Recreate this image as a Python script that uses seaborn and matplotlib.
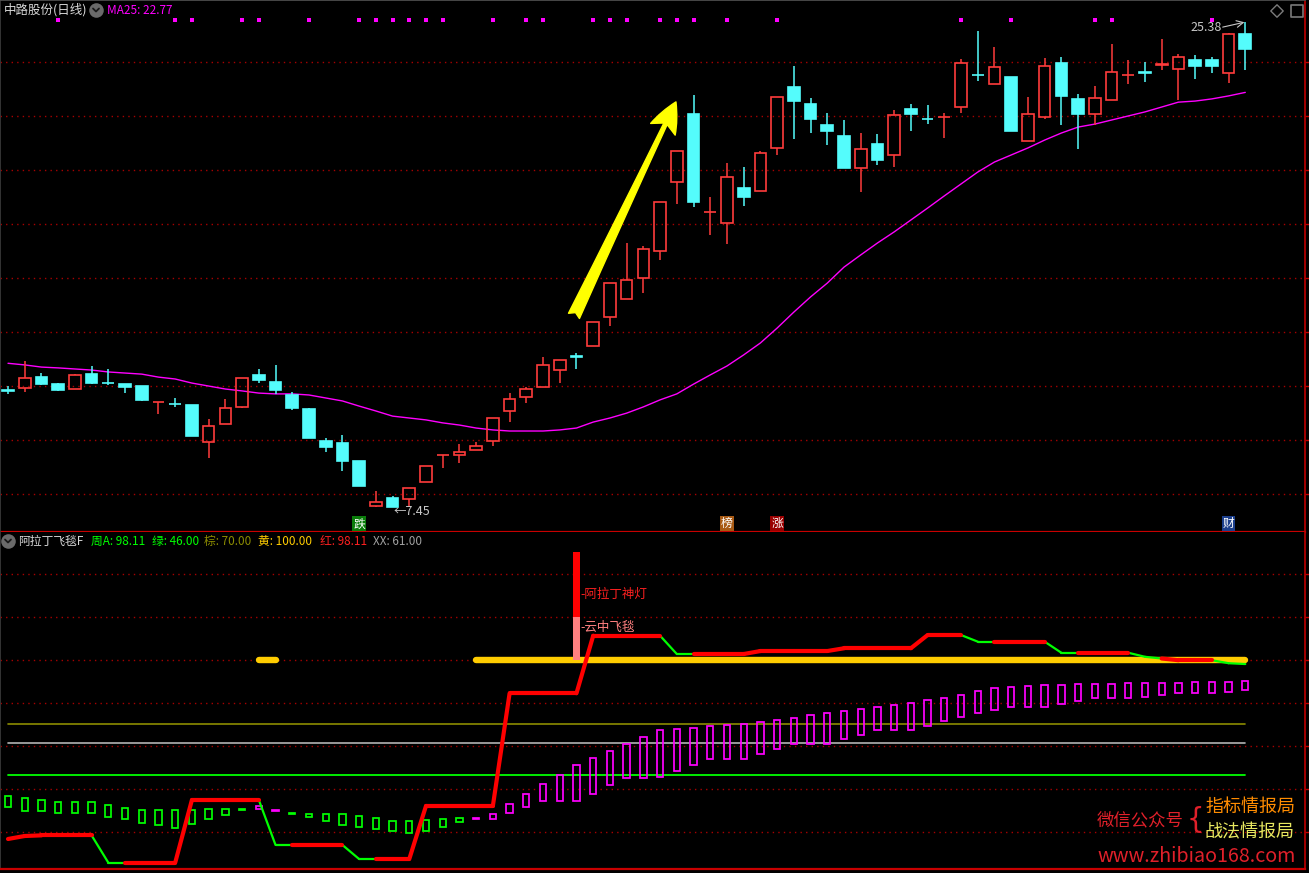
import numpy as np
import pandas as pd
import matplotlib
matplotlib.use("Agg")
import matplotlib.pyplot as plt
import matplotlib.transforms as mtransforms
import seaborn as sns

# ---------------- data ----------------
open_ = [11.77, 11.87, 12.25, 12.00, 11.83, 12.37, 12.04, 12.00, 11.93, 11.33,
         11.27, 11.23, 9.85, 10.52, 11.15, 12.34, 12.08, 11.60, 11.08, 9.90,
         9.83, 9.16, 7.49, 7.79, 7.75, 8.38, 9.39, 9.37, 9.56, 9.89,
         11.00, 11.51, 11.88, 12.51, 13.03, 13.42, 14.47, 15.13, 15.91, 16.93,
         19.45, 21.97, 18.34, 17.94, 19.23, 19.12, 20.71, 22.97, 22.33, 21.57,
         21.15, 19.97, 20.87, 20.45, 22.16, 21.79, 21.85, 22.22, 23.42, 23.07,
         23.34, 20.96, 21.85, 23.86, 22.53, 21.96, 22.48, 23.42, 23.51, 23.77,
         23.65, 23.96, 23.96, 23.47, 24.93]
close_ = [11.76, 12.22, 12.02, 11.80, 12.33, 12.05, 12.03, 11.90, 11.42, 11.34,
          11.26, 10.10, 10.44, 11.11, 12.22, 12.16, 11.80, 11.13, 10.02, 9.69,
          9.17, 8.25, 7.64, 7.45, 8.16, 8.99, 9.40, 9.51, 9.73, 10.74,
          11.44, 11.81, 12.70, 12.88, 13.02, 14.28, 15.72, 15.83, 16.98, 18.71,
          20.60, 18.74, 18.35, 19.63, 18.90, 20.52, 22.59, 22.46, 21.80, 21.36,
          19.99, 20.67, 20.29, 21.94, 21.98, 21.78, 21.86, 23.84, 23.41, 23.70,
          21.36, 21.96, 23.73, 22.65, 21.98, 22.55, 23.52, 23.43, 23.50, 23.82,
          24.07, 23.76, 23.76, 24.92, 24.38]
high_ = [11.94, 12.85, 12.40, 12.04, 12.39, 12.67, 12.56, 12.00, 11.93, 11.34,
         11.48, 11.23, 10.71, 11.45, 12.22, 12.56, 12.71, 11.70, 11.12, 10.02,
         10.11, 9.16, 8.05, 7.87, 8.16, 8.99, 9.40, 9.79, 9.85, 10.74,
         11.66, 11.90, 13.00, 12.88, 13.14, 14.28, 15.72, 17.20, 17.10, 18.71,
         20.60, 22.67, 18.91, 20.16, 20.00, 20.61, 22.59, 23.74, 22.55, 22.00,
         21.75, 21.27, 21.23, 22.12, 22.34, 22.29, 22.00, 24.01, 25.04, 24.45,
         23.34, 22.60, 24.03, 24.08, 22.71, 23.01, 24.57, 23.97, 23.89, 24.74,
         24.19, 24.15, 24.08, 24.96, 25.38]
low_ = [11.62, 11.72, 11.96, 11.76, 11.83, 12.00, 11.97, 11.68, 11.38, 10.91,
        11.17, 10.10, 9.28, 10.52, 11.13, 12.05, 11.65, 11.06, 10.02, 9.51,
        8.80, 8.25, 7.47, 7.45, 7.48, 8.38, 8.92, 9.10, 9.56, 9.73,
        10.61, 11.29, 11.88, 12.03, 12.57, 13.42, 14.16, 15.13, 15.35, 16.58,
        18.66, 18.55, 17.52, 17.18, 18.59, 19.12, 20.47, 21.06, 21.28, 20.84,
        19.97, 19.10, 20.10, 20.03, 21.36, 21.61, 21.10, 22.00, 23.20, 23.07,
        21.36, 20.96, 21.79, 21.58, 20.69, 21.57, 22.48, 23.09, 23.17, 23.61,
        22.50, 23.27, 23.50, 23.11, 23.61]
ma25 = [12.77, 12.71, 12.63, 12.60, 12.56, 12.52, 12.45, 12.41, 12.37, 12.26,
        12.19, 12.04, 11.93, 11.82, 11.75, 11.67, 11.64, 11.64, 11.60, 11.49,
        11.38, 11.19, 11.01, 10.82, 10.75, 10.68, 10.57, 10.49, 10.38, 10.31,
        10.27, 10.27, 10.27, 10.31, 10.38, 10.60, 10.75, 10.93, 11.16, 11.42,
        11.64, 12.00, 12.34, 12.67, 13.08, 13.52, 14.07, 14.66, 15.22, 15.73,
        16.32, 16.77, 17.21, 17.62, 18.06, 18.50, 18.95, 19.39, 19.83, 20.20,
        20.46, 20.72, 21.01, 21.27, 21.49, 21.60, 21.75, 21.90, 22.05, 22.23,
        22.41, 22.45, 22.53, 22.64, 22.77]
dot_days = [3, 10, 11, 14, 15, 18, 21, 22, 23, 24, 25, 26, 29, 31, 32, 35, 36,
            37, 39, 40, 41, 43, 46, 57, 60, 65, 66, 72]
signal_days = [21, 43, 46, 73]
signal_chars = ["跌", "榜", "涨", "财"]
signal_bg = ["#0b7d0b", "#a85a14", "#9a0000", "#1c3f8c"]
low_label = 7.45
high_label = 25.38
arrow_from = (33.85, 14.52)
arrow_to = (39.95, 22.42)
price_grid = [7.94, 9.94, 11.93, 13.93, 15.92, 17.91, 19.91, 21.90, 23.89]

# indicator panel
red_line = [16.1, 17.5, 17.8, 17.8, 17.8, 17.8, 5.0, 5.0, 5.0, 5.0,
            5.0, 34.4, 34.4, 34.4, 34.4, 34.4, 13.3, 13.3, 13.3, 13.3,
            13.3, 6.7, 6.7, 6.7, 6.7, 31.6, 31.6, 31.6, 31.6, 31.6,
            84.4, 84.4, 84.4, 84.4, 84.4, 111.4, 111.4, 111.4, 111.4, 111.4,
            102.8, 102.8, 102.8, 102.8, 102.8, 104.2, 104.2, 104.2, 104.2, 104.2,
            105.5, 105.5, 105.5, 105.5, 105.5, 111.7, 111.7, 111.7, 108.6, 108.6,
            108.6, 108.6, 108.6, 103.4, 103.4, 103.4, 103.4, 103.4, 101.5, 100.7,
            99.9, 99.9, 99.9, 98.5, 98.11]
red_line_colors = ("RRRRRR" + "GG" + "RRRRRRRR" + "GG" + "RRR" + "GG"
                   + "R" * 17 + "GG" + "R" * 16 + "GG" + "RRR" + "GG"
                   + "RRR" + "GG" + "RRR" + "GG")
box_top = [36.3, 35.3, 34.4, 33.4, 33.3, 33.4, 31.9, 30.5, 29.7, 29.7,
           29.5, 29.5, 30.0, 30.0, 30.2, 31.6, 29.4, 28.3, 27.7, 27.7,
           27.7, 26.9, 25.9, 24.4, 24.4, 25.0, 25.3, 25.8, 25.8, 27.7,
           32.4, 37.0, 41.7, 46.0, 50.6, 53.9, 57.2, 60.6, 63.7, 67.0,
           67.5, 68.0, 68.9, 69.4, 69.9, 70.8, 71.7, 72.7, 74.1, 75.0,
           76.0, 76.9, 77.8, 78.8, 79.7, 81.1, 82.0, 83.5, 85.5, 86.7,
           87.2, 87.7, 88.1, 88.1, 88.6, 88.6, 88.6, 89.1, 89.1, 89.1,
           89.1, 89.5, 89.5, 89.5, 90.0]
box_bot = [31.0, 29.1, 29.1, 28.4, 28.4, 28.1, 26.5, 25.3, 23.7, 22.5,
           21.1, 23.0, 25.3, 27.2, 29.7, 30.0, 29.0, 27.9, 26.3, 24.4,
           22.5, 21.9, 20.9, 20.0, 19.0, 20.0, 21.9, 23.9, 25.6, 25.6,
           28.4, 31.2, 34.1, 34.1, 34.1, 37.4, 41.2, 44.9, 44.9, 45.0,
           47.8, 50.6, 53.5, 53.5, 53.5, 55.8, 58.1, 60.5, 60.5, 60.5,
           62.8, 64.7, 67.0, 67.0, 67.0, 68.9, 71.3, 73.1, 75.0, 76.4,
           78.1, 78.1, 78.1, 79.2, 80.6, 82.0, 82.0, 82.0, 82.5, 83.5,
           84.4, 84.4, 84.4, 84.9, 85.8]
box_colors = "G" * 15 + "MM" + "G" * 11 + "M" * 47
yellow_line = [np.nan] * 15 + [100.0] * 2 + [np.nan] * 11 + [100.0] * 47
level_brown = 70.0
level_xx = 61.0
level_green = 46.0
lamp_day = 34
lamp_base, lamp_mid, lamp_top = 100.0, 120.0, 150.6
ind_grid = [19.4, 39.5, 59.7, 79.8, 100.0, 120.2, 140.3]

# ---------------- styling ----------------
sns.set_theme(style="dark", rc={"axes.facecolor": "black", "figure.facecolor": "black"})
CJK = ["Noto Sans CJK SC", "DejaVu Sans"]
plt.rcParams["font.family"] = CJK

RED = "#ff3c3c"
CYAN = "#54fcfc"
MAG = "#ff00ff"
GRIDC = "#a80000"

n = len(close_)
idx = np.arange(n)
df = pd.DataFrame({"day": idx, "open": open_, "close": close_, "high": high_,
                   "low": low_, "ma25": ma25})

W, H = 1309, 873
fig = plt.figure(figsize=(W / 100, H / 100), dpi=100)
fig.patch.set_facecolor("black")


def px_axes(x0, y0, x1, y1):
    return fig.add_axes([x0 / W, 1 - y1 / H, (x1 - x0) / W, (y1 - y0) / H])


ax1 = px_axes(0, 0, 1305, 532)
ax2 = px_axes(0, 532, 1305, 869)
step = 16.72
xlim = (-8 / step, (1305 - 8) / step)

for ax in (ax1, ax2):
    ax.set_facecolor("black")
    ax.set_xlim(*xlim)
    ax.xaxis.grid(False)
    ax.yaxis.grid(True, color=GRIDC, linestyle=(0, (1, 3)), linewidth=1.0)
    ax.set_axisbelow(True)
    ax.tick_params(axis="x", bottom=False, labelbottom=False)
    ax.yaxis.tick_right()
    ax.tick_params(axis="y", right=True, left=False, labelright=False, labelleft=False,
                   length=4, width=1, color="#c00000", direction="out")
    ax.set_xlabel("")
    ax.set_ylabel("")
    ax.spines["left"].set_color("#3a3a3a")
    ax.spines["right"].set_color("#c00000")
    ax.spines["right"].set_linewidth(1.2)
    ax.spines["bottom"].set_color("#c80000")
    ax.spines["bottom"].set_linewidth(1.6)

ax1.spines["top"].set_color("#505050")
ax2.spines["top"].set_visible(False)

# ---------------- top panel: candles ----------------
ax1.set_ylim(6.542, 26.181)
ax1.set_yticks(price_grid)
o = df["open"].to_numpy()
c = df["close"].to_numpy()
hi = df["high"].to_numpy()
lo = df["low"].to_numpy()
up = c >= o
cols = np.where(up, RED, CYAN)

ax1.vlines(idx, np.maximum(o, c), hi, colors=cols, linewidth=1.1, zorder=3)
ax1.vlines(idx, lo, np.minimum(o, c), colors=cols, linewidth=1.1, zorder=3)
ax1.bar(idx[up], (c - o)[up], bottom=o[up], width=0.7, facecolor="none",
        edgecolor=RED, linewidth=1.2, zorder=4)
ax1.bar(idx[~up], (o - c)[~up], bottom=c[~up], width=0.7, facecolor=CYAN,
        edgecolor=CYAN, linewidth=1.2, zorder=4)

sns.lineplot(data=df, x="day", y="ma25", ax=ax1, color=MAG, linewidth=1.0,
             legend=False, zorder=2)
ax1.set_xlim(*xlim)
ax1.set_xlabel("")
ax1.set_ylabel("")

blend = mtransforms.blended_transform_factory(ax1.transData, ax1.transAxes)
ax1.scatter(dot_days, [0.962] * len(dot_days), transform=blend, marker="s", s=7,
            color=MAG, linewidths=0, zorder=5)

ax1.annotate("", xy=arrow_to, xytext=arrow_from,
             arrowprops=dict(arrowstyle="fancy,head_length=0.95,head_width=0.85,tail_width=0.38",
                             fc="#ffff00", ec="#ffff00", mutation_scale=23,
                             shrinkA=0, shrinkB=0), zorder=6)

for d, ch, bg in zip(signal_days, signal_chars, signal_bg):
    ax1.text(d, 6.84, ch, ha="center", va="center", color="white", fontsize=8.5,
             bbox=dict(boxstyle="square,pad=0.08", fc=bg, ec="none"), zorder=6)

low_day = int(np.argmin(lo))
ax1.text(low_day + 0.05, 7.29, f"←{low_label:.2f}", color="#c8c8c8", fontsize=9,
         ha="left", va="center", zorder=6)
high_day = int(np.argmax(hi))
ax1.text(high_day - 3.25, 25.16, f"{high_label:.2f}", color="#c8c8c8", fontsize=9,
         ha="left", va="center", zorder=6)
ax1.annotate("", xy=(high_day - 0.05, high_label - 0.02), xytext=(high_day - 1.35, 25.18),
             arrowprops=dict(arrowstyle="->", color="#c8c8c8", lw=0.8,
                             shrinkA=0, shrinkB=0), zorder=6)

# ---------------- bottom panel: indicator ----------------
ax2.set_ylim(2.03, 160.0)
ax2.set_yticks(ind_grid)

ax2.plot(idx, np.full(n, level_brown), color="#8c8c00", linewidth=1.2, zorder=2)
ax2.plot(idx, np.full(n, level_xx), color="#b4b4b4", linewidth=1.2, zorder=2)
ax2.plot(idx, np.full(n, level_green), color="#00ff00", linewidth=1.3, zorder=2)

bt = np.array(box_top)
bb = np.array(box_bot)
for i in range(n):
    col = "#00ff00" if box_colors[i] == "G" else MAG
    h = bt[i] - bb[i]
    fc = col if h < 1.0 else "none"
    ax2.bar(i, max(h, 0.5), bottom=bb[i], width=0.38, facecolor=fc, edgecolor=col,
            linewidth=1.25, zorder=3)

ax2.plot(idx, yellow_line, color="#ffcc00", linewidth=4.6, solid_capstyle="round", zorder=4)

for i in range(1, n):
    if red_line_colors[i] == "R":
        ax2.plot([i - 1, i], [red_line[i - 1], red_line[i]], color="#ff0000",
                 linewidth=3.0, solid_capstyle="round", zorder=6)
    else:
        ax2.plot([i - 1, i], [red_line[i - 1], red_line[i]], color="#00ff00",
                 linewidth=1.6, solid_capstyle="round", zorder=5)

ax2.bar(lamp_day, lamp_mid - lamp_base, bottom=lamp_base, width=0.42, color="#ff8080",
        linewidth=0, zorder=7)
ax2.bar(lamp_day, lamp_top - lamp_mid, bottom=lamp_mid, width=0.42, color="#ff0000",
        linewidth=0, zorder=7)
ax2.text(lamp_day + 0.25, 130.9, "-阿拉丁神灯", color="#ff2020", fontsize=9,
         ha="left", va="center", zorder=8)
ax2.text(lamp_day + 0.25, 115.1, "-云中飞毯", color="#ff8080", fontsize=9,
         ha="left", va="center", zorder=8)

# ---------------- overlay texts (pixel coordinates) ----------------
ov = fig.add_axes([0, 0, 1, 1], facecolor="none")
ov.set_xlim(0, W)
ov.set_ylim(H, 0)
ov.axis("off")
ov.set_zorder(20)


def icon(x, y):
    ov.scatter([x], [y], s=110, color="#6a6a6a", linewidths=0, zorder=21)
    ov.plot([x - 3, x, x + 3], [y - 1.5, y + 1.5, y - 1.5], color="#1a1a1a",
            linewidth=1.3, zorder=22)


ov.text(4, 10, "中路股份(日线)", color="#d8d8d8", fontsize=9, ha="left", va="center")
icon(96, 10)
ov.text(107, 10, f"MA25: {ma25[-1]:.2f}", color=MAG, fontsize=8.5, ha="left", va="center")
ov.scatter([1277], [11], marker="D", s=40, facecolors="none", edgecolors="#7a7a7a",
           linewidths=1)
ov.scatter([1297], [11], marker="s", s=70, facecolors="none", edgecolors="#7a7a7a",
           linewidths=1.2)

icon(8, 541)
header = [("阿拉丁飞毯F", 18, "#d8d8d8"),
          (f"周A: {red_line[-1]:.2f}", 91, "#00ff00"),
          (f"绿: {level_green:.2f}", 152, "#00ff00"),
          (f"棕: {level_brown:.2f}", 204, "#8c8c00"),
          (f"黄: {100.0:.2f}", 258, "#ffcc00"),
          (f"红: {red_line[-1]:.2f}", 320, "#ff2020"),
          (f"XX: {level_xx:.2f}", 373, "#a0a0a0")]
for s, x, col in header:
    ov.text(x, 541.5, s, color=col, fontsize=8.5, ha="left", va="center")

ov.text(1097, 820, "微信公众号", color="#e0202a", fontsize=12.5, ha="left", va="center")
ov.text(1187, 820, "{", color="#e0202a", fontsize=20, ha="left", va="center",
        family=["DejaVu Sans"])
ov.text(1205, 807, "指标情报局", color="#ff8c00", fontsize=13, ha="left", va="center")
ov.text(1205, 832, "战法情报局", color="#e8e860", fontsize=13, ha="left", va="center")
ov.text(1097, 857, "www.zhibiao168.com", color="#e0202a", fontsize=14.2, ha="left",
        va="center")

fig.savefig("out.png", dpi=100, facecolor="black")
